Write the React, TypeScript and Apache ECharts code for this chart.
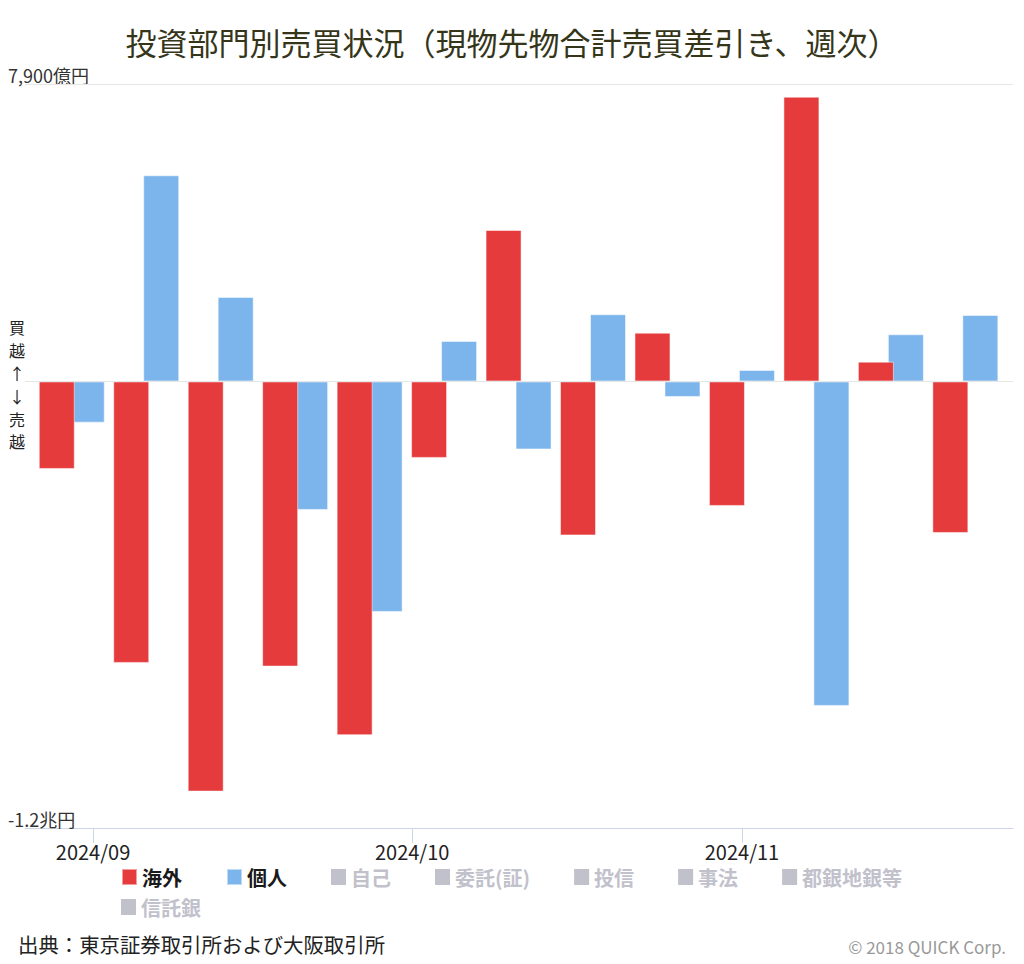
import React, { useEffect, useRef } from "react";
import * as echarts from "echarts";

const FONT = '"Noto Sans CJK JP", "Noto Sans", sans-serif';

const weeks = [
  "2024-08-30", "2024-09-06", "2024-09-13", "2024-09-20", "2024-09-27",
  "2024-10-04", "2024-10-11", "2024-10-18", "2024-10-25", "2024-11-01",
  "2024-11-08", "2024-11-15", "2024-11-22",
];
const foreignValues = [-2324, -7475, -10893, -7573, -9395, -2031, 4023, -4089, 1296, -3306, 7563, 526, -4023];
const individualValues = [-1094, 5476, 2244, -3412, -6121, 1075, -1806, 1785, -412, 305, -8617, 1253, 1766];

const legendRow1 = ["海外", "個人", "自己", "委託(証)", "投信", "事法", "都銀地銀等"];
const legendRow2 = ["信託銀"];
const hiddenSeries = ["自己", "委託(証)", "投信", "事法", "都銀地銀等", "信託銀"];

const monthTicks = ["2024-09-01", "2024-10-01", "2024-11-01"];
const X_MIN = "2024-08-25 14:30:00";
const X_MAX = "2024-11-26 11:30:00";
const Y_MIN = -11860;
const Y_MAX = 7900;
const Y_MAX_LABEL = "7,900億円";
const Y_MIN_LABEL = "-1.2兆円";

const TITLE = "投資部門別売買状況（現物先物合計売買差引き、週次）";
const SOURCE = "出典：東京証券取引所および大阪取引所";
const COPYRIGHT = "© 2018 QUICK Corp.";

const toTime = (s: string) => {
  const [d, t] = s.split(" ");
  const [y, m, dd] = d.split("-").map(Number);
  let hh = 0, mm = 0;
  if (t) {
    const p = t.split(":").map(Number);
    hh = p[0]; mm = p[1];
  }
  return new Date(y, m - 1, dd, hh, mm).getTime();
};

export default function App() {
  const ref = useRef<HTMLDivElement>(null);
  useEffect(() => {
    if (!ref.current) return;
    const chart = echarts.init(ref.current, undefined, { renderer: "svg" });
    const selected1: Record<string, boolean> = {};
    legendRow1.forEach((n) => (selected1[n] = hiddenSeries.indexOf(n) < 0));
    const selected2: Record<string, boolean> = {};
    legendRow2.forEach((n) => (selected2[n] = hiddenSeries.indexOf(n) < 0));
    const monthVals = monthTicks.map(toTime);

    const legendCommon = {
      left: 121,
      padding: 0,
      orient: "horizontal",
      itemWidth: 15,
      itemHeight: 16,
      itemGap: 44,
      icon: "rect",
      inactiveColor: "#c1c1cc",
      textStyle: { fontSize: 20, fontWeight: "bold", color: "#1a1a1a", fontFamily: FONT },
    };

    chart.setOption({
      animation: false,
      textStyle: { fontFamily: FONT },
      title: {
        text: TITLE,
        left: "center",
        top: 21,
        textStyle: { fontSize: 31, fontWeight: "normal", color: "#35351a", fontFamily: FONT },
      },
      legend: [
        { ...legendCommon, top: 867, data: legendRow1, selected: selected1 },
        { ...legendCommon, top: 897, data: legendRow2, selected: selected2 },
      ],
      grid: { left: 25, right: 11, top: 84, bottom: 964 - 828, containLabel: false },
      xAxis: {
        type: "value",
        min: toTime(X_MIN),
        max: toTime(X_MAX),
        axisLine: { show: true, onZero: false, lineStyle: { color: "#ccd6eb", width: 1 } },
        axisTick: { show: true, customValues: monthVals, length: 15, lineStyle: { color: "#ccd6eb" } },
        axisLabel: {
          show: true,
          customValues: monthVals,
          margin: 13,
          fontSize: 20,
          color: "#222",
          fontFamily: FONT,
          formatter: (v: number) => {
            const d = new Date(v);
            return d.getFullYear() + "/" + String(d.getMonth() + 1).padStart(2, "0");
          },
        },
        splitLine: { show: false },
      },
      yAxis: {
        type: "value",
        min: Y_MIN,
        max: Y_MAX,
        axisLine: { show: false },
        axisTick: { show: false },
        splitLine: { show: false },
        axisLabel: {
          showMinLabel: true,
          showMaxLabel: true,
          align: "left",
          margin: 17,
          verticalAlign: "bottom",
          lineHeight: 18,
          fontSize: 18,
          color: "#333",
          fontFamily: FONT,
          formatter: (v: number) => (v === Y_MAX ? Y_MAX_LABEL : v === Y_MIN ? Y_MIN_LABEL : ""),
        },
      },
      series: [
        {
          name: "海外",
          type: "bar",
          z: 3,
          barWidth: 36,
          barGap: "-16.7%",
          itemStyle: { color: "#e53b3d", borderColor: "rgba(255,255,255,0.5)", borderWidth: 1 },
          data: weeks.map((w, i) => [toTime(w), foreignValues[i]]),
        },
        {
          name: "個人",
          type: "bar",
          z: 2,
          barWidth: 36,
          barGap: "-16.7%",
          itemStyle: { color: "#7cb5ec", borderColor: "rgba(255,255,255,0.5)", borderWidth: 1 },
          data: weeks.map((w, i) => [toTime(w), individualValues[i]]),
          markLine: {
            silent: true,
            symbol: "none",
            label: { show: false },
            lineStyle: { type: "solid", color: "#e6e6e6", width: 1 },
            data: [{ yAxis: 0 }, { yAxis: Y_MAX }],
          },
        },
        ...hiddenSeries.map((n) => ({ name: n, type: "line", data: [] as number[][] })),
      ],
      graphic: [
        {
          type: "text",
          left: 9,
          top: 316,
          style: {
            text: "買\n越\n↑\n↓\n売\n越",
            fontSize: 16,
            lineHeight: 22.8,
            fill: "#222",
            fontFamily: FONT,
            align: "center",
          },
        },
        {
          type: "text",
          left: 18,
          top: 934,
          style: { text: SOURCE, fontSize: 20.4, fill: "#222", fontFamily: FONT },
        },
        {
          type: "text",
          right: 18,
          top: 938,
          style: { text: COPYRIGHT, fontSize: 17, fill: "#999", fontFamily: FONT },
        },
      ],
    });
    return () => chart.dispose();
  }, []);
  return (
    <div
      ref={ref}
      style={{ position: "absolute", left: 0, top: 0, width: 1024, height: 964, background: "#fff" }}
    />
  );
}
